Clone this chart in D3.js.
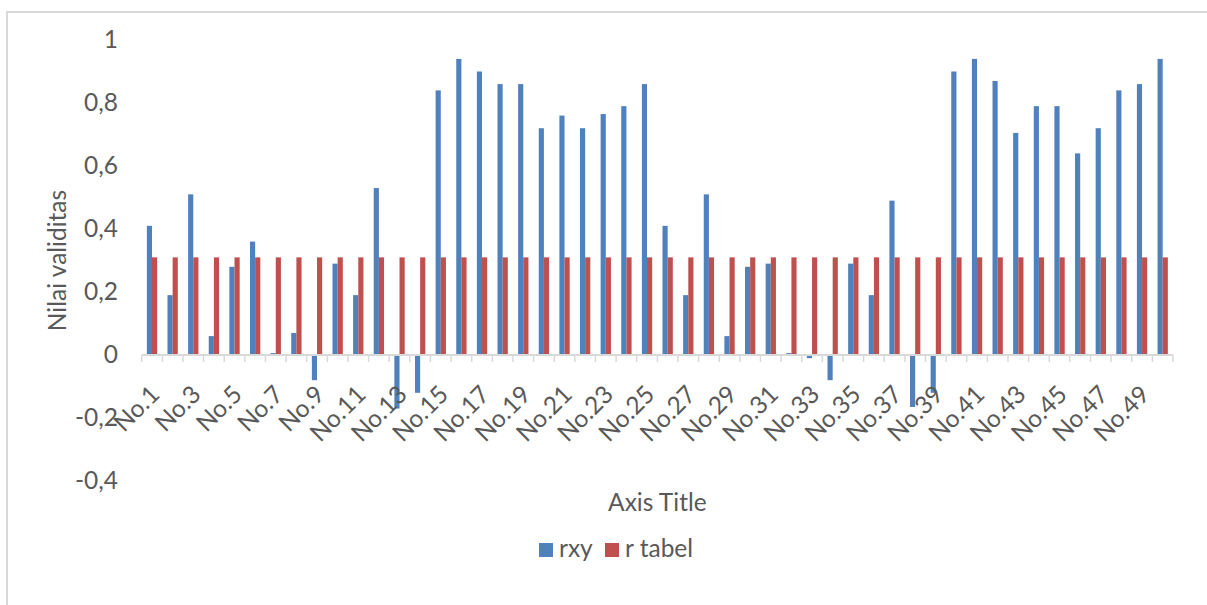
<!DOCTYPE html>
<html>
<head>
<meta charset="utf-8">
<script src="https://cdn.jsdelivr.net/npm/d3@7"></script>
<style>
  body { margin: 0; background: #fff; }
  text { font-family: Lato, "Liberation Sans", sans-serif; fill: #595959; }
</style>
</head>
<body>
<script>
// data
const categories = d3.range(1, 51).map(i => 'No.' + i);
const rxy = [0.41, 0.19, 0.51, 0.06, 0.28, 0.36, 0.006, 0.07, -0.08, 0.29,
  0.19, 0.53, -0.17, -0.12, 0.84, 0.94, 0.90, 0.86, 0.86, 0.72,
  0.76, 0.72, 0.765, 0.79, 0.86, 0.41, 0.19, 0.51, 0.06, 0.28,
  0.29, 0.006, -0.01, -0.08, 0.29, 0.19, 0.49, -0.165, -0.12, 0.90,
  0.94, 0.87, 0.705, 0.79, 0.79, 0.64, 0.72, 0.84, 0.86, 0.94];
const rTabel = categories.map(() => 0.31);
const seriesNames = ['rxy', 'r tabel'];
const seriesColors = ['#4f81bd', '#c0504d'];
const yTicks = [-0.4, -0.2, 0, 0.2, 0.4, 0.6, 0.8, 1];

const width = 1207, height = 605;
const plotLeft = 141.7, plotRight = 1173, plotTop = 40, plotBottom = 481;
const fontSize = 24.5;

const svg = d3.select('body').append('svg')
  .attr('width', width)
  .attr('height', height);

// outer chart border
svg.append('rect')
  .attr('x', 7)
  .attr('y', 12)
  .attr('width', 1220)
  .attr('height', 620)
  .attr('fill', 'none')
  .attr('stroke', '#d9d9d9')
  .attr('stroke-width', 2);

const x0 = d3.scaleBand()
  .domain(categories)
  .range([plotLeft, plotRight]);

const x1 = d3.scaleBand()
  .domain(seriesNames)
  .range([0, x0.bandwidth()])
  .paddingInner(0)
  .paddingOuter(1);

const y = d3.scaleLinear()
  .domain([-0.4, 1])
  .range([plotBottom, plotTop]);

const fmt = d => String(+d.toFixed(1)).replace('.', ',');

// y axis labels
const yAxis = svg.append('g')
  .attr('transform', 'translate(118,0)')
  .call(d3.axisLeft(y).tickValues(yTicks).tickSize(0).tickPadding(0).tickFormat(fmt));
yAxis.select('.domain').remove();
yAxis.selectAll('text')
  .attr('font-size', fontSize)
  .style('font-family', 'Lato, "Liberation Sans", sans-serif')
  .attr('fill', '#595959');

// bars
const rows = categories.map((c, i) => ({ cat: c, vals: [rxy[i], rTabel[i]] }));

const groups = svg.selectAll('g.cat')
  .data(rows).enter()
  .append('g')
  .attr('class', 'cat')
  .attr('transform', d => 'translate(' + x0(d.cat) + ',0)');

groups.selectAll('rect')
  .data(d => d.vals.map((v, k) => ({ key: seriesNames[k], v: v, k: k })))
  .enter()
  .append('rect')
  .attr('x', d => x1(d.key))
  .attr('width', x1.bandwidth())
  .attr('y', d => Math.min(y(d.v), y(0)))
  .attr('height', d => Math.abs(y(d.v) - y(0)))
  .attr('fill', d => seriesColors[d.k]);

// category axis line + ticks at boundaries
const y0 = y(0);
svg.append('line')
  .attr('x1', plotLeft)
  .attr('x2', plotRight)
  .attr('y1', y0)
  .attr('y2', y0)
  .attr('stroke', '#d9d9d9')
  .attr('stroke-width', 2);

const bounds = categories.map(c => x0(c)).concat([plotRight]);
svg.selectAll('line.tick')
  .data(bounds).enter()
  .append('line')
  .attr('class', 'tick')
  .attr('x1', d => d)
  .attr('x2', d => d)
  .attr('y1', y0)
  .attr('y2', y0 + 7)
  .attr('stroke', '#d9d9d9')
  .attr('stroke-width', 1.5);

// rotated category labels, every other one
svg.selectAll('text.xlab')
  .data(categories.filter((c, i) => i % 2 === 0)).enter()
  .append('text')
  .attr('class', 'xlab')
  .attr('transform', d => 'translate(' + (x0(d) + x0.bandwidth() / 2 - 4) + ',' + (y0 + 28) + ') rotate(-45)')
  .attr('text-anchor', 'end')
  .attr('dy', '0.75em')
  .attr('font-size', fontSize)
  .text(d => d);

// axis titles
svg.append('text')
  .attr('x', (plotLeft + plotRight) / 2)
  .attr('y', 511)
  .attr('text-anchor', 'middle')
  .attr('font-size', fontSize)
  .text('Axis Title');

svg.append('text')
  .attr('transform', 'translate(66,' + ((plotTop + plotBottom) / 2) + ') rotate(-90)')
  .attr('text-anchor', 'middle')
  .attr('font-size', fontSize)
  .text('Nilai validitas');

// legend
const legendX = [539, 605];
const legend = svg.selectAll('g.legend')
  .data(seriesNames).enter()
  .append('g')
  .attr('class', 'legend')
  .attr('transform', (d, i) => 'translate(' + legendX[i] + ',543)');

legend.append('rect')
  .attr('width', 14)
  .attr('height', 14)
  .attr('fill', (d, i) => seriesColors[i]);

legend.append('text')
  .attr('x', 20)
  .attr('y', 14)
  .attr('font-size', fontSize)
  .text(d => d);
</script>
</body>
</html>
